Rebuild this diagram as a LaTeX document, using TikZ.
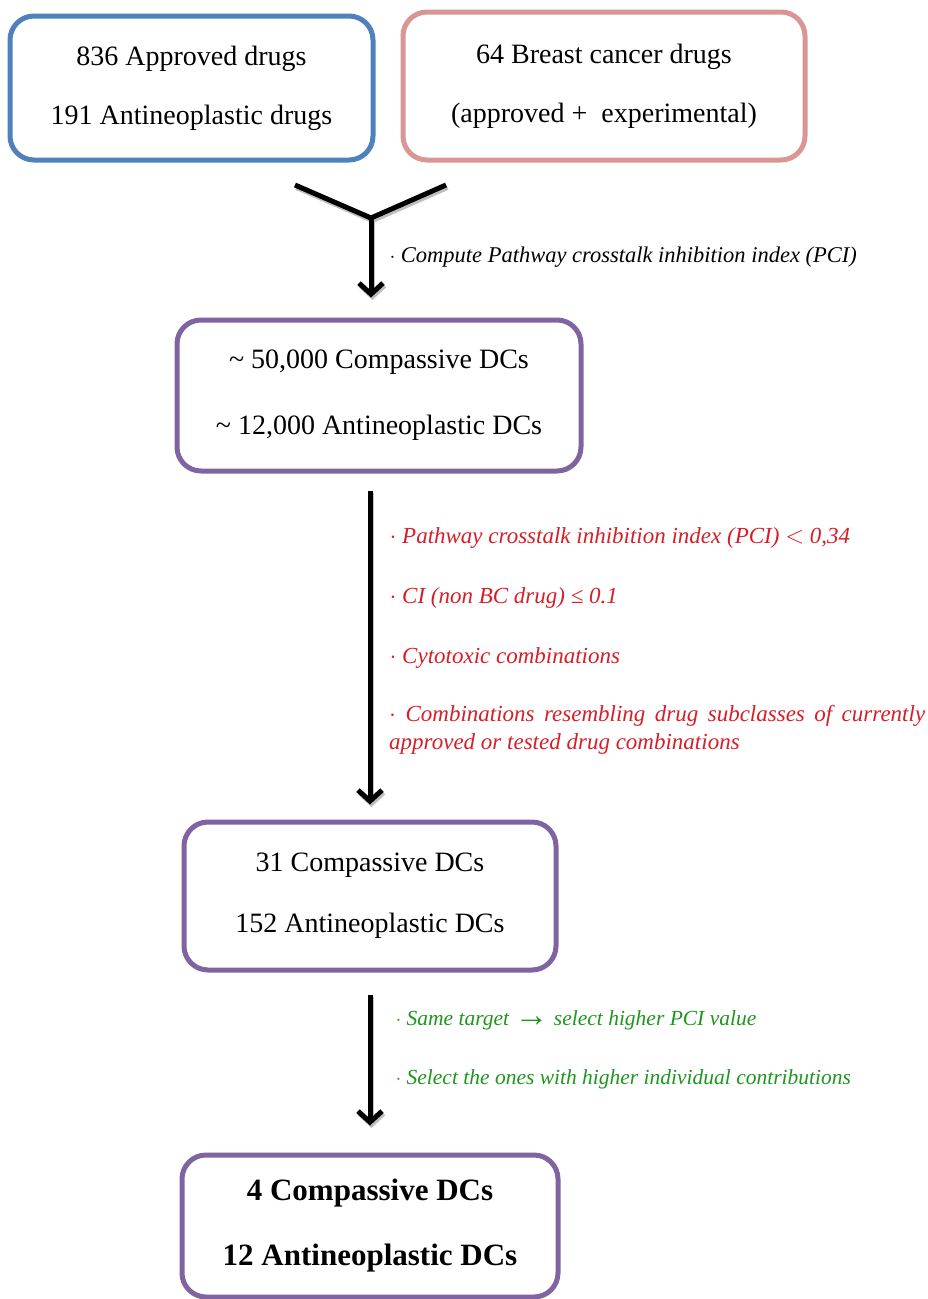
\documentclass[tikz,border=0pt]{standalone}
\usepackage{amsmath,amssymb}
\usepackage{fontspec}
\setmainfont{Liberation Serif}
\usepackage{tikz}
\usetikzlibrary{arrows.meta}
\definecolor{bleu}{RGB}{79,129,189}
\definecolor{rose}{RGB}{217,150,148}
\definecolor{viol}{RGB}{128,100,162}
\definecolor{rouge}{RGB}{214,30,40}
\definecolor{vert}{RGB}{30,150,30}

\begin{document}
\begin{tikzpicture}[x=1pt, y=-1pt,
            boite/.style={draw, rounded corners=24pt, line width=5pt, align=center,
                font=\fontsize{28}{34}\selectfont}, boite/.default=,
            blu/.style={boite, draw=bleu}, blu/.default=,
            rs/.style={boite, draw=rose}, rs/.default=,
            vio/.style={boite, draw=viol}, vio/.default=,
            fl/.style={line width=5pt, -{Straight Barb[length=11pt,width=24pt]}}, fl/.default=,
            note/.style={anchor=west, font=\itshape\fontsize{23}{28}\selectfont}, note/.default=,
        ]
        \useasboundingbox (0,0) rectangle (927,1299);
        % boxes
        \node[blu, minimum width=363pt, minimum height=144pt] (appr) at (191.5,88)
            {836 Approved drugs\\[25pt] 191 Antineoplastic drugs};
        \node[rs, minimum width=402pt, minimum height=148pt] (bc) at (604,86)
            {64 Breast cancer drugs\\[25pt] (approved +\ \ experimental)};
        \node[vio, minimum width=404pt, minimum height=151pt] (cand) at (379,395.5)
            {\textasciitilde\ 50,000 Compassive DCs\\[32pt] \textasciitilde\ 12,000 Antineoplastic DCs};
        \node[vio, minimum width=372pt, minimum height=148pt] (filt) at (370,896)
            {31 Compassive DCs\\[27pt] 152 Antineoplastic DCs};
        \node[vio, minimum width=376pt, minimum height=142pt, font=\bfseries\fontsize{31}{36}\selectfont] (fin) at (370,1226)
            {4 Compassive DCs\\[29pt] 12 Antineoplastic DCs};
        % merge
        \coordinate (yl) at (295,185);
        \coordinate (yr) at (446,185);
        \coordinate (yj) at (371,218);
        % shadows
        \begin{scope}[transform canvas={shift={(1.5pt,-2.5pt)}}, draw=gray!50]
            \draw[line width=5pt, gray!50] (yl) -- (yj) -- (yr);
            \draw[fl, gray!50, shorten >=20pt] (yj) -- (yj |- cand.north);
            \draw[fl, gray!50, shorten <=17pt, shorten >=15pt] (cand.south -| filt.north) -- (filt.north);
            \draw[fl, gray!50, shorten <=22pt, shorten >=27pt] (filt.south) -- (fin.north);
        \end{scope}
        \draw[line width=5pt] (yl) -- (yj) -- (yr);
        \draw[fl, shorten >=20pt] (yj) -- (yj |- cand.north);
        \draw[fl, shorten <=17pt, shorten >=15pt] (cand.south -| filt.north) -- (filt.north);
        \draw[fl, shorten <=22pt, shorten >=27pt] (filt.south) -- (fin.north);
        % notes
        \node[note, font=\itshape\fontsize{22.5}{28}\selectfont] (pci) at (386,257)
            {$\cdot$ Compute Pathway crosstalk inhibition index (PCI)};
        \begin{scope}[every node/.style={note, text=rouge}]
            \node (r1) at (386,538) {$\cdot$ Pathway crosstalk inhibition index (PCI) $<$ 0,34};
            \node (r2) at (386,598) {$\cdot$ CI (non BC drug) ≤ 0.1};
            \node (r3) at (386,658) {$\cdot$ Cytotoxic combinations};
            \node[anchor=north west, text width=536pt, align=justify, inner sep=3pt] (r4) at (386,702)
                {$\cdot$ Combinations resembling drug subclasses of currently approved or tested drug combinations};
        \end{scope}
        \begin{scope}[every node/.style={note, text=vert, font=\itshape\fontsize{21.5}{26}\selectfont}]
            \node (v1) at (392,1020) {$\cdot$ Same target {\upshape\bfseries\fontsize{34}{26}\selectfont\raisebox{-1pt}{→}} select higher PCI value};
            \node (v2) at (392,1079) {$\cdot$ Select the ones with higher individual contributions};
        \end{scope}
    \end{tikzpicture}
\end{document}
